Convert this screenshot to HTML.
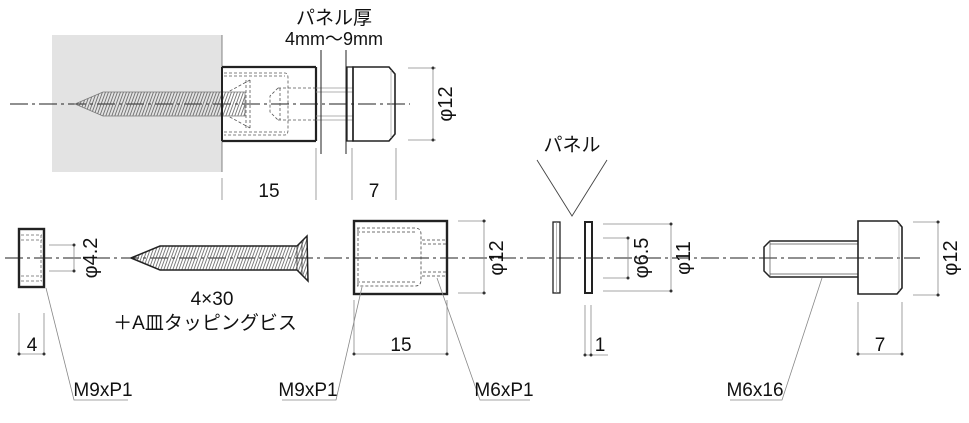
<!DOCTYPE html>
<html><head><meta charset="utf-8"><style>
html,body{margin:0;padding:0;background:#fff;}
svg{display:block;}
text{font-family:"Liberation Sans Narrow","Liberation Sans","Noto Sans CJK JP",sans-serif;fill:#111;}
.jp{font-family:"Liberation Sans","Noto Sans CJK JP",sans-serif;}
</style></head><body>
<svg width="969" height="423" viewBox="0 0 969 423" xmlns="http://www.w3.org/2000/svg">
<defs>
<pattern id="h" width="3" height="20" patternUnits="userSpaceOnUse" patternTransform="skewX(-20)">
<line x1="1" y1="0" x2="1" y2="20" stroke="#555" stroke-width="0.8"/>
</pattern>
</defs>
<g fill="none" stroke="#222">
<!-- TOP ASSEMBLY -->
<rect x="52" y="35" width="170" height="137" fill="#e3e3e3" stroke="none"/>
<line x1="222" y1="35" x2="222" y2="172" stroke="#666" stroke-width="0.8"/>
<line x1="10" y1="104" x2="410" y2="104" stroke="#222" stroke-width="0.9" stroke-dasharray="18,4,3,4"/>
<!-- screw in wall -->
<polygon points="75,104 103,92 245,92 245,116 103,116" fill="url(#h)" stroke="#777" stroke-width="0.8"/>
<!-- spacer -->
<line x1="222" y1="67" x2="316" y2="67" stroke-width="2.2"/>
<line x1="222" y1="141" x2="316" y2="141" stroke-width="2.2"/>
<line x1="316" y1="67" x2="316" y2="141" stroke-width="2.2"/>
<line x1="222" y1="67" x2="222" y2="141" stroke-width="2"/>
<g stroke="#555" stroke-width="0.8" stroke-dasharray="3,2">
<path d="M224,73 H285 Q288,73 288,78 V130 Q288,135 285,135 H224"/>
<path d="M224,76 H285 M224,132 H285"/>
<path d="M278,88 H315 M278,120 H315 M278,88 L270,96 V112 L278,120 M280,88 V120"/>
<path d="M250,80 L228,92 M250,128 L228,116 M250,80 V128 M246,80 V128"/>
</g>
<path d="M316,88 H353 M316,120 H353 M316,92 H353 M316,116 H353" stroke="#999" stroke-width="0.8"/>
<!-- panel lines -->
<line x1="321" y1="50" x2="321" y2="154" stroke-width="1"/>
<line x1="346" y1="50" x2="346" y2="154" stroke-width="1"/>
<!-- cap -->
<rect x="347" y="67" width="6" height="74" stroke-width="1.3"/>
<path d="M353,67 H389 L395,74 V134 L389,141 H353 Z" stroke-width="1.6"/>
<line x1="391" y1="70" x2="391" y2="138" stroke="#aaa" stroke-width="0.8"/>
<!-- phi12 top -->
<g stroke="#888" stroke-width="0.8">
<line x1="408" y1="68" x2="436" y2="68"/><line x1="408" y1="140" x2="436" y2="140"/>
<line x1="433" y1="68" x2="433" y2="140"/>
<line x1="222" y1="178" x2="222" y2="200"/><line x1="316" y1="148" x2="316" y2="200"/>
<line x1="352" y1="148" x2="352" y2="200"/><line x1="396" y1="148" x2="396" y2="200"/>
</g>
<!-- BOTTOM -->
<line x1="5" y1="258" x2="920" y2="258" stroke="#222" stroke-width="0.9" stroke-dasharray="18,4,3,4"/>
<rect x="19" y="229" width="25" height="58" stroke-width="2.4"/>
<g stroke="#666" stroke-width="0.8" stroke-dasharray="3,2">
<path d="M21,235 H42 M21,240 H42 M21,276 H42 M21,281 H42 M41,235 V281"/>
</g>
<g stroke="#888" stroke-width="0.8">
<line x1="49" y1="245" x2="75" y2="245"/><line x1="49" y1="271" x2="75" y2="271"/>
<line x1="74" y1="245" x2="74" y2="271"/>
<line x1="19" y1="313" x2="19" y2="355"/><line x1="44" y1="313" x2="44" y2="355"/>
<line x1="19" y1="354" x2="44" y2="354"/>
<polyline points="46,288 74,400 128,400"/>
</g>
<polygon points="131,258 160,246 297,246 307,236 308,281 297,270 160,270" fill="url(#h)" stroke-width="1.5"/>
<path d="M297,246 V270 M302,242 V274" stroke="#333" stroke-width="0.8"/>
<rect x="354" y="221" width="93" height="73" stroke-width="2.4"/>
<g stroke="#444" stroke-width="0.8" stroke-dasharray="3,2">
<path d="M357,228 H415 Q421,228 421,234 V280 Q421,286 415,286 H357"/>
<path d="M357,232 H415 M357,282 H415 M358,228 V286"/>
<path d="M422,240 H446 M422,276 H446 M423,244 H446 M423,272 H446"/>
</g>
<g stroke="#888" stroke-width="0.8">
<line x1="458" y1="221" x2="486" y2="221"/><line x1="458" y1="293" x2="486" y2="293"/>
<line x1="484" y1="221" x2="484" y2="293"/>
<line x1="354" y1="300" x2="354" y2="355"/><line x1="447" y1="300" x2="447" y2="355"/>
<line x1="354" y1="354" x2="447" y2="354"/>
<polyline points="362,287 336,400 282,400"/>
<polyline points="437,278 480,400 530,400"/>
</g>
<rect x="553" y="222" width="7" height="71" stroke-width="1.3"/>
<line x1="556.5" y1="222" x2="556.5" y2="293" stroke="#888" stroke-width="0.6"/>
<rect x="585" y="222" width="7" height="71" stroke-width="2"/>
<polyline points="537,160 572,216 607,160" stroke="#444" stroke-width="0.9"/>
<g stroke="#888" stroke-width="0.8">
<line x1="603" y1="224" x2="672" y2="224"/><line x1="603" y1="291" x2="672" y2="291"/>
<line x1="671" y1="224" x2="671" y2="291"/>
<line x1="603" y1="238" x2="629" y2="238"/><line x1="603" y1="278" x2="629" y2="278"/>
<line x1="628" y1="238" x2="628" y2="278"/>
<line x1="585" y1="305" x2="585" y2="355"/><line x1="591" y1="305" x2="591" y2="355"/>
<line x1="585" y1="355" x2="608" y2="355"/>
</g>
<path d="M858,241 H770 L764,247 V271 L770,277 H858" stroke-width="1.5"/>
<path d="M770,244 H858 M770,274 H858 M770,241 V277" stroke="#555" stroke-width="0.7"/>
<path d="M858,221 H897 L902,227 V288 L897,294 H858 Z" stroke-width="1.6"/>
<line x1="899" y1="224" x2="899" y2="291" stroke="#aaa" stroke-width="0.7"/>
<g stroke="#888" stroke-width="0.8">
<line x1="913" y1="222" x2="940" y2="222"/><line x1="913" y1="295" x2="940" y2="295"/>
<line x1="938" y1="222" x2="938" y2="295"/>
<line x1="858" y1="302" x2="858" y2="355"/><line x1="902" y1="302" x2="902" y2="355"/>
<line x1="858" y1="354" x2="902" y2="354"/>
<polyline points="822,278 782,400 730,400"/>
</g>
</g>
<g fill="#333">
<circle cx="433" cy="68" r="1.5"/><circle cx="433" cy="140" r="1.5"/>
<circle cx="74" cy="245" r="1.5"/><circle cx="74" cy="271" r="1.5"/>
<circle cx="19" cy="354" r="1.5"/><circle cx="44" cy="354" r="1.5"/>
<circle cx="354" cy="354" r="1.5"/><circle cx="447" cy="354" r="1.5"/>
<circle cx="484" cy="221" r="1.5"/><circle cx="484" cy="293" r="1.5"/>
<circle cx="671" cy="224" r="1.5"/><circle cx="671" cy="291" r="1.5"/>
<circle cx="628" cy="238" r="1.5"/><circle cx="628" cy="278" r="1.5"/>
<circle cx="585" cy="355" r="1.5"/><circle cx="591" cy="355" r="1.5"/>
<circle cx="938" cy="222" r="1.5"/><circle cx="938" cy="295" r="1.5"/>
<circle cx="858" cy="354" r="1.5"/><circle cx="902" cy="354" r="1.5"/>
</g>
<text x="334" y="24" font-size="19" text-anchor="middle" class="jp">パネル厚</text>
<text x="334" y="45" font-size="18" text-anchor="middle">4mm～9mm</text>
<text x="269" y="197" font-size="19" text-anchor="middle">15</text>
<text x="374" y="197" font-size="19" text-anchor="middle">7</text>
<text transform="translate(452,104) rotate(-90)" font-size="20" text-anchor="middle">φ12</text>
<text transform="translate(97,258) rotate(-90)" font-size="20" text-anchor="middle">φ4.2</text>
<text x="32" y="351" font-size="19" text-anchor="middle">4</text>
<text x="103" y="396" font-size="19" text-anchor="middle">M9xP1</text>
<text x="212" y="305" font-size="19" text-anchor="middle">4×30</text>
<text x="205" y="329" font-size="19" text-anchor="middle" class="jp">＋A皿タッピングビス</text>
<text x="401" y="351" font-size="19" text-anchor="middle">15</text>
<text transform="translate(503,258) rotate(-90)" font-size="20" text-anchor="middle">φ12</text>
<text x="308" y="396" font-size="19" text-anchor="middle">M9xP1</text>
<text x="504" y="396" font-size="19" text-anchor="middle">M6xP1</text>
<text x="572" y="151" font-size="19" text-anchor="middle" class="jp">パネル</text>
<text transform="translate(648,258) rotate(-90)" font-size="20" text-anchor="middle">φ6.5</text>
<text transform="translate(690,258) rotate(-90)" font-size="20" text-anchor="middle">φ11</text>
<text x="600" y="351" font-size="19" text-anchor="middle">1</text>
<text x="880" y="351" font-size="19" text-anchor="middle">7</text>
<text transform="translate(957,258) rotate(-90)" font-size="20" text-anchor="middle">φ12</text>
<text x="755" y="396" font-size="19" text-anchor="middle">M6x16</text>
</svg>
</body></html>
